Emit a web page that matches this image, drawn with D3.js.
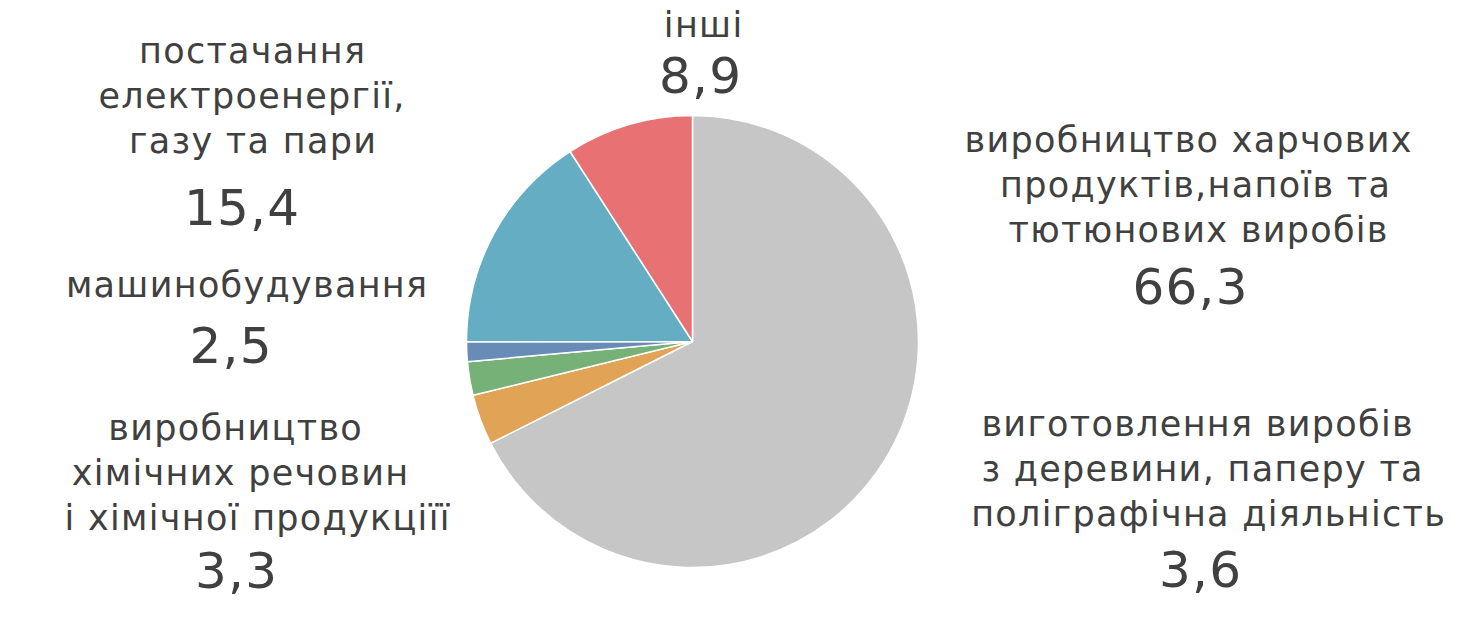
<!DOCTYPE html>
<html>
<head>
<meta charset="utf-8">
<script src="https://cdn.jsdelivr.net/npm/d3@7"></script>
<style>
  html, body { margin: 0; padding: 0; background: #ffffff; }
  svg { display: block; }
  text { font-family: "DejaVu Sans", Verdana, sans-serif; fill: #404040; }
</style>
</head>
<body>
<svg id="chart" width="1465" height="625"></svg>
<script>
// ---- data ----
const categories = [
  "виробництво харчових продуктів,напоїв та тютюнових виробів",
  "виготовлення виробів з деревини, паперу та поліграфічна діяльність",
  "виробництво хімічних речовин і хімічної продукціїї",
  "машинобудування",
  "постачання електроенергії, газу та пари",
  "інші"
];
// label text split into lines as printed
const labelLines = [
  ["виробництво харчових", "продуктів,напоїв та", "тютюнових виробів"],
  ["виготовлення виробів", "з деревини, паперу та", "поліграфічна діяльність"],
  ["виробництво", "хімічних речовин", "і хімічної продукціїї"],
  ["машинобудування"],
  ["постачання", "електроенергії,", "газу та пари"],
  ["інші"]
];
// slice sizes as drawn in the picture (%)
const shares = [67.5, 3.6, 2.4, 1.4, 15.9, 9.1];
// values printed on the labels
const labelValues = ["66,3", "3,6", "3,3", "2,5", "15,4", "8,9"];

// ---- styles / layout ----
const palette = ["#c6c6c6", "#e1a355", "#76b177", "#688cb8", "#64adc2", "#e87273"];
const cx = 692.5, cy = 341.5, R = 226;
const textSize = 35, numSize = 50, spacing = 1.3;
// per-label layout: x centre for each line, first baseline, line step, number x and baseline
const layout = [
  { xs: [1188, 1195, 1198], y0: 152, step: 45, nx: 1190, ny: 304 },
  { xs: [1197, 1202, 1208], y0: 436, step: 45, nx: 1200, ny: 587 },
  { xs: [235, 240, 257],    y0: 440, step: 45, nx: 236,  ny: 588 },
  { xs: [246.5],            y0: 297, step: 45, nx: 230.5, ny: 363 },
  { xs: [252, 251.5, 252.5], y0: 63, step: 45, nx: 241.5, ny: 225 },
  { xs: [703],              y0: 37,  step: 45, nx: 700,  ny: 93 }
];

const svg = d3.select("#chart");
const color = d3.scaleOrdinal().domain(categories).range(palette);

const pie = d3.pie().sort(null).value(d => d.share);
const arc = d3.arc().innerRadius(0).outerRadius(R);
const rows = categories.map((c, i) => ({ cat: c, share: shares[i], i }));

const g = svg.append("g").attr("transform", `translate(${cx},${cy})`);
g.selectAll("path")
  .data(pie(rows))
  .join("path")
  .attr("d", arc)
  .attr("fill", d => color(d.data.cat))
  .attr("stroke", "#ffffff")
  .attr("stroke-width", 1.5)
  .attr("stroke-linejoin", "round");

const labels = svg.append("g");
rows.forEach((r, i) => {
  const L = layout[i];
  labelLines[i].forEach((line, k) => {
    labels.append("text")
      .attr("x", L.xs[k] + spacing / 2)
      .attr("y", L.y0 + k * L.step)
      .attr("text-anchor", "middle")
      .attr("font-size", textSize)
      .attr("letter-spacing", spacing)
      .text(line);
  });
  labels.append("text")
    .attr("x", L.nx + spacing / 2)
    .attr("y", L.ny)
    .attr("text-anchor", "middle")
    .attr("font-size", numSize)
    .attr("letter-spacing", spacing)
    .text(labelValues[i]);
});
</script>
</body>
</html>
